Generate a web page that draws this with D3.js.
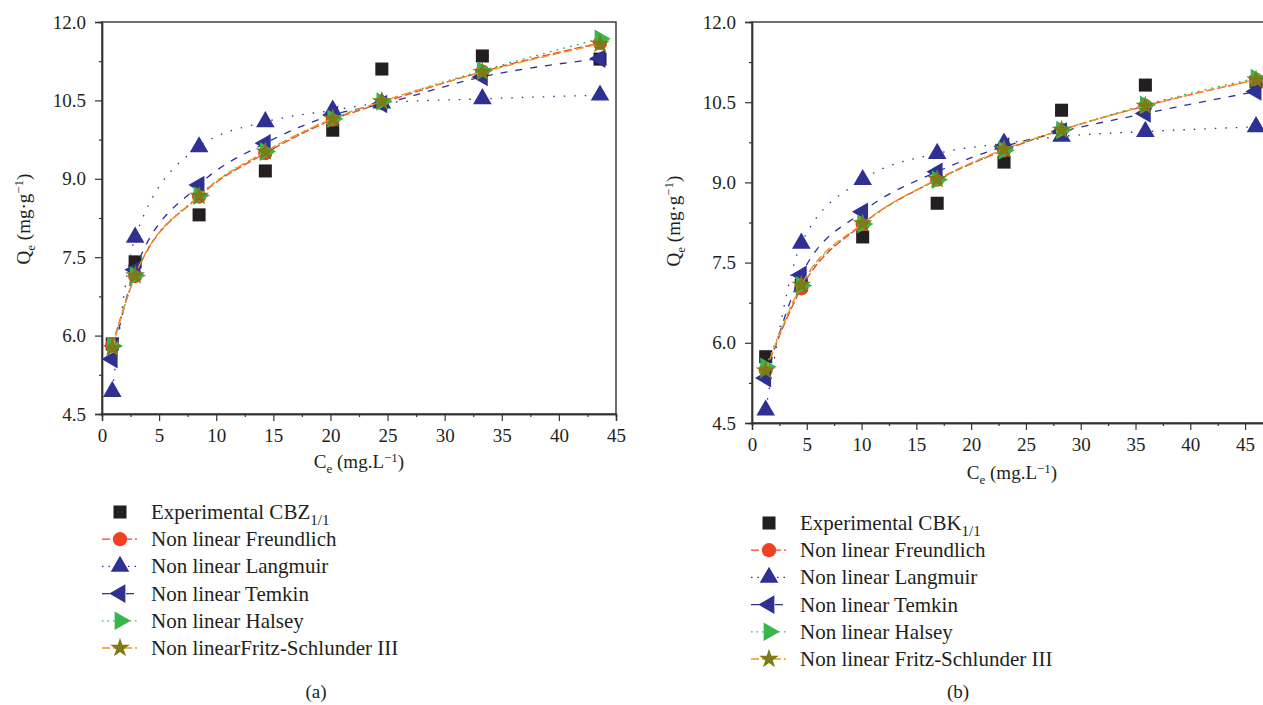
<!DOCTYPE html>
<html>
<head>
<meta charset="utf-8">
<script src="https://cdn.jsdelivr.net/npm/d3@7"></script>
<style>
  body { margin: 0; background: #fff; }
  svg text { font-family: "Liberation Serif", "Times New Roman", "DejaVu Serif", serif; fill: #231f20; }
</style>
</head>
<body>
<div class="container"></div>
<script>
const w = 1263
const h = 705
const serif = "'Liberation Serif', 'Times New Roman', 'DejaVu Serif', serif"

// panel (a) CBZ
const ceA = [0.9, 2.9, 8.5, 14.3, 20.2, 24.5, 33.3, 43.6]
const expA = [5.84, 7.41, 8.31, 9.15, 9.93, 11.10, 11.35, 11.29]
const freundA = [5.82, 7.14, 8.66, 9.49, 10.13, 10.45, 11.05, 11.60]
const langA = [4.93, 7.88, 9.61, 10.09, 10.31, 10.45, 10.53, 10.60]
const temkinA = [5.55, 7.26, 8.88, 9.68, 10.22, 10.43, 10.95, 11.30]
const halseyA = [5.80, 7.15, 8.68, 9.52, 10.15, 10.48, 11.07, 11.68]
const fritzA = [5.76, 7.15, 8.67, 9.52, 10.15, 10.48, 11.04, 11.58]

// panel (b) CBK
const ceB = [1.25, 4.5, 10.1, 16.9, 23.0, 28.25, 35.9, 46.0]
const expB = [5.74, 7.08, 7.98, 8.61, 9.38, 10.35, 10.82, 10.88]
const freundB = [5.49, 7.02, 8.22, 9.05, 9.60, 9.98, 10.43, 10.92]
const langB = [4.74, 7.86, 9.05, 9.54, 9.73, 9.86, 9.95, 10.04]
const temkinB = [5.34, 7.27, 8.45, 9.20, 9.67, 9.95, 10.29, 10.70]
const halseyB = [5.55, 7.07, 8.22, 9.05, 9.60, 9.98, 10.45, 10.95]
const fritzB = [5.48, 7.08, 8.23, 9.06, 9.62, 9.98, 10.43, 10.92]

const yTicks = [4.5, 6.0, 7.5, 9.0, 10.5, 12.0]
const xTicks = [0, 5, 10, 15, 20, 25, 30, 35, 40, 45]

const namesA = ["Experimental CBZ", "Non linear Freundlich", "Non linear Langmuir",
                "Non linear Temkin", "Non linear Halsey", "Non linearFritz-Schlunder III"]
const namesB = ["Experimental CBK", "Non linear Freundlich", "Non linear Langmuir",
                "Non linear Temkin", "Non linear Halsey", "Non linear Fritz-Schlunder III"]

const styles = [
  {sym: d3.symbolSquare, size: 170, rot: 0, fill: "#231f20", stroke: null, dash: null, legDash: null},
  {sym: d3.symbolCircle, size: 160, rot: 0, fill: "#ef4123", stroke: "#ef4123", dash: "8,3", legDash: "8,3"},
  {sym: d3.symbolTriangle, size: 150, rot: 0, fill: "#2e3192", stroke: "#2e3192", dash: "1.5,9", legDash: "1.5,5"},
  {sym: d3.symbolTriangle, size: 150, rot: -90, fill: "#2e3192", stroke: "#2e3192", dash: "7,8", legDash: "8,4"},
  {sym: d3.symbolTriangle, size: 150, rot: 90, fill: "#39b54a", stroke: "#39b54a", dash: "2,5", legDash: "1.5,4"},
  {sym: d3.symbolStar, size: 120, rot: 0, fill: "#7d7a17", stroke: "#f7941d", dash: "8,4", legDash: "8,3"}
]

const svg = d3.select(".container")
              .append("svg")
              .attr("width", w)
              .attr("height", h)

function drawPanel(p) {
  const xScale = d3.scaleLinear().domain(p.xDomain).range([p.left, p.right])
  const yScale = d3.scaleLinear().domain([4.5, 12]).range([p.bottom, p.top])
  const g = svg.append("g")

  // frame
  g.append("rect")
    .attr("x", p.left).attr("y", p.top)
    .attr("width", p.right - p.left).attr("height", p.bottom - p.top)
    .attr("fill", "none").attr("stroke", "#333").attr("stroke-width", 1.4)

  const xMinor = d3.range(2.5, p.xDomain[1], 5)
  const yMinor = d3.range(5.25, 12, 1.5)

  g.append("g")
    .attr("transform", `translate(0, ${p.bottom})`)
    .call(d3.axisBottom(xScale).tickValues(xMinor).tickSize(3).tickFormat(""))
  g.append("g")
    .attr("transform", `translate(0, ${p.bottom})`)
    .call(d3.axisBottom(xScale).tickValues(xTicks).tickSize(7).tickPadding(8).tickFormat(d3.format("d")))
  g.append("g")
    .attr("transform", `translate(${p.left}, 0)`)
    .call(d3.axisLeft(yScale).tickValues(yMinor).tickSize(3).tickFormat(""))
  g.append("g")
    .attr("transform", `translate(${p.left}, 0)`)
    .call(d3.axisLeft(yScale).tickValues(yTicks).tickSize(7).tickPadding(9).tickFormat(d3.format(".1f")))

  g.selectAll("g").attr("font-family", serif)
  g.selectAll(".domain").attr("stroke", "#333").attr("stroke-width", 1.4)
  g.selectAll(".tick line").attr("stroke", "#333").attr("stroke-width", 1.2)
  g.selectAll(".tick text").style("font-size", "19px").attr("fill", "#231f20")
    .style("font-family", serif)

  // axis titles
  const yt = g.append("text")
    .attr("transform", `translate(${p.yTitleX}, ${p.yTitleY}) rotate(-90)`)
    .attr("text-anchor", "middle")
    .style("font-family", serif)
    .style("font-size", "19px")
  yt.append("tspan").text("Q")
  yt.append("tspan").text("e").attr("dy", 5).style("font-size", "13px")
  yt.append("tspan").text(" (mg·g").attr("dy", -5)
  yt.append("tspan").text("−1").attr("dy", -7).style("font-size", "13px")
  yt.append("tspan").text(")").attr("dy", 7)

  const xt = g.append("text")
    .attr("x", p.xTitleX).attr("y", p.xTitleY)
    .attr("text-anchor", "middle")
    .style("font-family", serif)
    .style("font-size", "19px")
  xt.append("tspan").text("C")
  xt.append("tspan").text("e").attr("dy", 5).style("font-size", "13px")
  xt.append("tspan").text(" (mg.L").attr("dy", -5)
  xt.append("tspan").text("−1").attr("dy", -6).style("font-size", "13px")
  xt.append("tspan").text(")").attr("dy", 6)

  const plot = g.append("g")
  const line = d3.line()
    .x(d => xScale(d[0]))
    .y(d => yScale(d[1]))
    .curve(d3.curveMonotoneX)

  p.series.forEach((vals, i) => {
    const st = styles[i]
    const pts = p.ce.map((c, j) => [c, vals[j]])
    if (st.dash) {
      plot.append("path")
        .datum(pts)
        .attr("d", line)
        .attr("fill", "none")
        .attr("stroke", st.stroke)
        .attr("stroke-width", 1.3)
        .attr("stroke-dasharray", st.dash)
    }
    plot.selectAll(null)
      .data(pts)
      .enter()
      .append("path")
        .attr("d", d3.symbol(st.sym, st.size))
        .attr("transform", d => `translate(${xScale(d[0])}, ${yScale(d[1])}) rotate(${st.rot})`)
        .attr("fill", st.fill)
  })

  // legend
  const legend = svg.append("g")
    .attr("transform", `translate(${p.legX}, ${p.legY})`)
  p.names.forEach((name, i) => {
    const st = styles[i]
    const row = legend.append("g").attr("transform", `translate(0, ${i * 27.2})`)
    if (st.legDash) {
      row.append("line")
        .attr("x1", -18).attr("x2", 17)
        .attr("stroke", st.stroke).attr("stroke-width", 1.3)
        .attr("stroke-dasharray", st.legDash)
    }
    row.append("path")
      .attr("d", d3.symbol(st.sym, st.size))
      .attr("transform", `rotate(${st.rot})`)
      .attr("fill", st.fill)
    const t = row.append("text")
      .attr("x", 31).attr("y", 7)
      .style("font-family", serif)
      .style("font-size", "21px")
    t.append("tspan").text(name)
    if (i === 0) {
      t.append("tspan").text("1/1").attr("dy", 6).style("font-size", "15px")
    }
  })

  svg.append("text")
    .attr("x", p.capX).attr("y", 698)
    .attr("text-anchor", "middle")
    .style("font-family", serif)
    .style("font-size", "19px")
    .text(p.caption)
}

drawPanel({
  ce: ceA, series: [expA, freundA, langA, temkinA, halseyA, fritzA], names: namesA,
  xDomain: [0, 45], left: 102, right: 616, top: 22, bottom: 414,
  yTitleX: 30, yTitleY: 219, xTitleX: 359, xTitleY: 468,
  legX: 120, legY: 512, capX: 316, caption: "(a)"
})

drawPanel({
  ce: ceB, series: [expB, freundB, langB, temkinB, halseyB, fritzB], names: namesB,
  xDomain: [0, 47], left: 752, right: 1267, top: 22, bottom: 423,
  yTitleX: 680, yTitleY: 221, xTitleX: 1012, xTitleY: 479,
  legX: 769, legY: 523, capX: 958, caption: "(b)"
})
</script>
</body>
</html>
